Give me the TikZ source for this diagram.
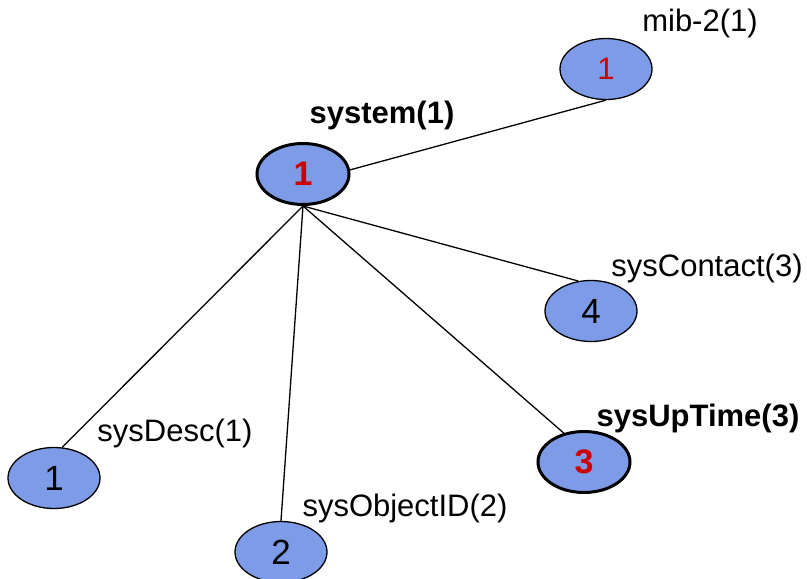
\documentclass[tikz,border=0pt]{standalone}
\usepackage{fontspec}
\setmainfont{Liberation Sans}
\usetikzlibrary{shapes.geometric}

\definecolor{noeud}{RGB}{125,155,230}
\definecolor{rouge}{RGB}{204,0,0}

\begin{document}
\begin{tikzpicture}[x=1pt, y=-1pt, font=\fontsize{35}{40}\selectfont,
  oid/.style={ellipse, draw, fill=noeud, line width=1.3pt,
    minimum width=92pt, minimum height=61pt, inner sep=0pt},
  oidfort/.style={oid, line width=3pt, text=rouge,
    font=\fontsize{34}{40}\selectfont\bfseries},
  lien/.style={line width=1.3pt},
  nom/.style={font=\fontsize{31}{36}\selectfont},
  nomfort/.style={font=\fontsize{31}{36}\selectfont\bfseries}]

% --- Cadre ---
\useasboundingbox (0,0) rectangle (807,579);

% --- Noeuds de l'arbre ---
\node[oid, text=rouge, font=\fontsize{31}{36}\selectfont] (mib) at (606,69) {1};
\node[oidfort] (system)  at (303,174) {1};
\node[oid]     (contact) at (591,311) {4};
\node[oidfort] (uptime)  at (584,462) {3};
\node[oid]     (descr)   at (54,478)  {1};
\node[oid]     (objid)   at (281,552) {2};

% --- Liens ---
\draw[lien] (system.5)     -- (mib.south);
\draw[lien] (system.south) -- (contact.113);
\draw[lien] (system.south) -- (uptime.125);
\draw[lien] (system.south) -- (objid.north);
\draw[lien] (system.south) -- (descr.75);

% --- Etiquettes ---
\node[nom]     (lmib)     at (700,23)  {mib-2(1)};
\node[nomfort] (lsystem)  at (382,115) {system(1)};
\node[nom]     (lcontact) at (707,268) {sysContact(3)};
\node[nomfort] (luptime)  at (698,418) {sysUpTime(3)};
\node[nom]     (ldescr)   at (175,433) {sysDesc(1)};
\node[nom]     (lobjid)   at (405,508) {sysObjectID(2)};

\end{tikzpicture}
\end{document}
